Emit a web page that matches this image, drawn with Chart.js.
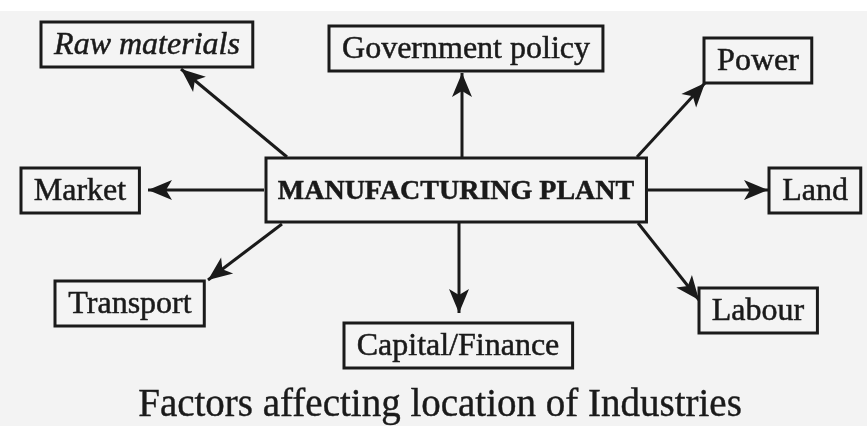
<!DOCTYPE html>
<html>
<head>
<meta charset="utf-8">
<script src="https://cdn.jsdelivr.net/npm/chart.js@4.4.1/dist/chart.umd.min.js"></script>
<style>
  html, body { margin: 0; padding: 0; background: #f3f3f3; }
  .wrap { width: 867px; height: 426px; position: relative; }
</style>
</head>
<body>
<div class="wrap"><canvas id="diagram"></canvas></div>
<script>
'use strict';

/* ---- Diagram content ---- */
const centreLabel = 'MANUFACTURING PLANT';
const centreX = 456;
const centreY = 190;

const factors = ['Raw materials', 'Government policy', 'Power', 'Market',
                 'Land', 'Transport', 'Capital/Finance', 'Labour'];
const factorX = [147, 466, 758, 80, 815, 130, 458, 758];
const factorY = [44, 48, 60, 190, 190, 303, 345, 310];
const factorItalic = [true, false, false, false, false, false, false, false];

// arrow shafts: from the plant box to each factor box
const arrowFromX = [287, 462, 637, 264, 648, 282, 459, 638];
const arrowFromY = [157, 157, 157, 190, 190, 224, 222, 223];
const arrowToX   = [181, 462, 705, 148, 768, 208, 459, 699];
const arrowToY   = [69,  73,  83,  190, 190, 280, 313, 300];

const caption = 'Factors affecting location of Industries';
const captionX = 440;
const captionY = 406;

/* ---- Styles ---- */
const INK = '#1a1a1a';
const SERIF = "'Liberation Serif', 'DejaVu Serif', serif";

/* ---- Plugin: paper, boxes, arrowheads, caption ---- */
const diagramPlugin = {
  id: 'diagram',
  beforeDraw(chart) {
    const { ctx, width, height } = chart;
    ctx.save();
    ctx.fillStyle = '#f3f3f3';
    ctx.fillRect(0, 0, width, height);
    ctx.fillStyle = '#ffffff';
    ctx.fillRect(0, 0, width, 11);
    ctx.restore();
  },
  afterDatasetsDraw(chart) {
    const { ctx } = chart;
    const sx = chart.scales.x, sy = chart.scales.y;
    const px = v => sx.getPixelForValue(v);
    const py = v => sy.getPixelForValue(v);

    // arrowheads
    ctx.save();
    ctx.fillStyle = INK;
    arrowToX.forEach((tx, i) => {
      const x0 = px(arrowFromX[i]), y0 = py(arrowFromY[i]);
      const x1 = px(tx), y1 = py(arrowToY[i]);
      const a = Math.atan2(y1 - y0, x1 - x0);
      const len = 24, half = 10;
      ctx.save();
      ctx.translate(x1, y1);
      ctx.rotate(a);
      ctx.beginPath();
      ctx.moveTo(0, 0);
      ctx.lineTo(-len, -half);
      ctx.lineTo(-len + 6, 0);
      ctx.lineTo(-len, half);
      ctx.closePath();
      ctx.fill();
      ctx.restore();
    });
    ctx.restore();

    const box = (label, cx, cy, font, padX, h) => {
      ctx.font = font;
      const w = ctx.measureText(label).width + padX * 2;
      const x = Math.round(cx - w / 2), y = Math.round(cy - h / 2);
      ctx.fillStyle = '#f4f4f4';
      ctx.fillRect(x, y, w, h);
      ctx.lineWidth = 3;
      ctx.strokeStyle = INK;
      ctx.strokeRect(x, y, w, h);
      ctx.fillStyle = INK;
      ctx.textAlign = 'center';
      ctx.textBaseline = 'middle';
      ctx.lineWidth = 0.5;
      ctx.strokeText(label, cx, cy + 2);
      ctx.fillText(label, cx, cy + 2);
    };

    ctx.save();
    box(centreLabel, px(centreX), py(centreY), 'bold 28px ' + SERIF, 12, 64);
    factors.forEach((f, i) => {
      const font = (factorItalic[i] ? 'italic ' : '') + '32px ' + SERIF;
      box(f, px(factorX[i]), py(factorY[i]), font, 13, 45);
    });

    ctx.font = '39px ' + SERIF;
    ctx.fillStyle = INK;
    ctx.strokeStyle = INK;
    ctx.lineWidth = 0.4;
    ctx.textAlign = 'center';
    ctx.textBaseline = 'middle';
    ctx.strokeText(caption, px(captionX), py(captionY));
    ctx.fillText(caption, px(captionX), py(captionY));
    ctx.restore();
  }
};

/* ---- Datasets: one shaft per factor ---- */
const shafts = factors.map((f, i) => ({
  label: f,
  type: 'line',
  data: [
    { x: arrowFromX[i], y: arrowFromY[i] },
    { x: arrowToX[i], y: arrowToY[i] }
  ],
  borderColor: INK,
  borderWidth: 3,
  pointRadius: 0,
  fill: false
}));

new Chart(document.getElementById('diagram'), {
  type: 'scatter',
  data: {
    datasets: [
      ...shafts,
      {
        label: 'nodes',
        data: factors.map((f, i) => ({ x: factorX[i], y: factorY[i] })),
        pointRadius: 0
      }
    ]
  },
  options: {
    responsive: true,
    maintainAspectRatio: false,
    animation: false,
    layout: { padding: 0 },
    plugins: {
      legend: { display: false },
      tooltip: { enabled: false }
    },
    scales: {
      x: { type: 'linear', min: 0, max: 867, display: false },
      y: { type: 'linear', min: 0, max: 426, reverse: true, display: false }
    }
  },
  plugins: [diagramPlugin]
});
</script>
</body>
</html>
